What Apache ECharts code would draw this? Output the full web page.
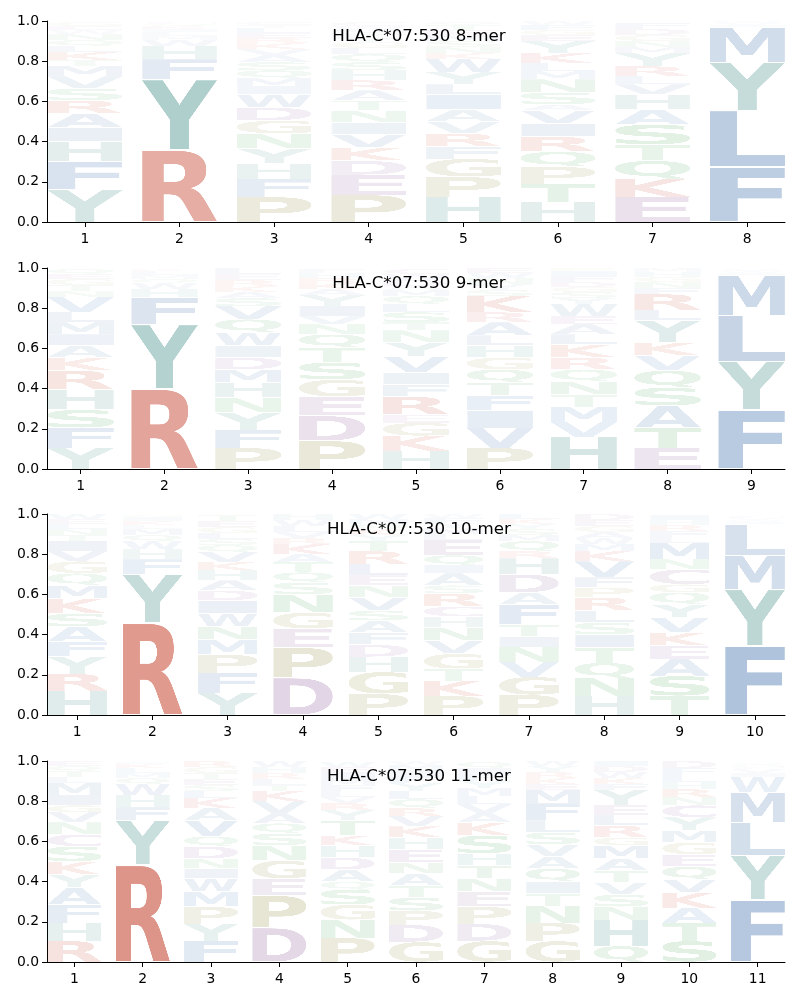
<!DOCTYPE html>
<html><head><meta charset="utf-8">
<script src="https://cdn.jsdelivr.net/npm/echarts@6/dist/echarts.min.js"></script>
<style>html,body{margin:0;padding:0;background:#fff}#c{width:800px;height:1000px}</style>
</head><body><div id="c"></div>
<script>
// ---------- DATA (letter, frequency), bottom to top for each position ----------
const titles = ['HLA-C*07:530 8-mer', 'HLA-C*07:530 9-mer', 'HLA-C*07:530 10-mer', 'HLA-C*07:530 11-mer'];
const yTicks = [0, 0.2, 0.4, 0.6, 0.8, 1.0];

const mer8 = [
  [['Y',.16],['F',.14],['H',.10],['I',.07],['A',.07],['R',.065],['S',.06],['V',.06],['M',.05],['T',.03],['K',.04],['L',.03],['Q',.03],['N',.03],['W',.02],['E',.02],['G',.02]],
  [['R',.36],['Y',.35],['F',.10],['H',.065],['W',.03],['M',.02],['L',.02],['I',.015],['K',.015],['Q',.01],['C',.01]],
  [['P',.125],['F',.09],['H',.075],['Y',.075],['N',.075],['G',.065],['D',.065],['W',.065],['I',.04],['M',.04],['Q',.04],['S',.04],['A',.035],['V',.03],['K',.03],['R',.025],['E',.025],['L',.025],['T',.015],['C',.015]],
  [['P',.135],['E',.10],['D',.07],['K',.065],['V',.065],['I',.06],['N',.06],['T',.05],['A',.05],['R',.05],['H',.05],['S',.04],['Q',.04],['L',.03],['G',.03],['Y',.02],['F',.02],['M',.02],['W',.02],['C',.02]],
  [['H',.125],['P',.10],['G',.09],['F',.06],['R',.065],['V',.06],['A',.06],['I',.075],['L',.05],['Y',.06],['W',.065],['K',.03],['N',.03],['S',.03],['M',.03],['E',.025],['T',.025],['Q',.015]],
  [['H',.10],['T',.09],['P',.085],['Q',.075],['R',.075],['I',.065],['V',.065],['A',.03],['S',.06],['N',.065],['M',.04],['L',.04],['K',.05],['Y',.06],['E',.03],['G',.025],['F',.025],['W',.02]],
  [['E',.125],['K',.09],['Q',.09],['T',.08],['S',.10],['A',.075],['H',.075],['V',.05],['L',.04],['R',.05],['Y',.065],['M',.03],['N',.03],['G',.03],['D',.03],['F',.03]],
  [['F',.275],['L',.28],['Y',.24],['M',.175],['I',.01],['V',.01],['W',.01]]
];

const mer9 = [
  [['Y',.105],['F',.10],['S',.09],['H',.10],['R',.095],['K',.065],['A',.06],['I',.055],['M',.06],['L',.05],['V',.075],['N',.03],['T',.03],['G',.03],['E',.025],['Q',.025]],
  [['R',.40],['Y',.32],['F',.135],['H',.04],['W',.03],['Q',.02],['M',.02],['L',.02],['K',.01]],
  [['P',.105],['F',.09],['Y',.085],['N',.075],['H',.075],['M',.065],['D',.06],['I',.06],['W',.065],['Q',.065],['V',.065],['S',.04],['A',.03],['K',.03],['R',.03],['E',.03],['L',.03]],
  [['P',.14],['D',.125],['E',.095],['G',.085],['S',.085],['T',.075],['Q',.065],['N',.05],['V',.04],['I',.05],['Y',.055],['A',.03],['K',.03],['R',.025],['H',.025],['F',.02]],
  [['H',.09],['K',.075],['G',.065],['E',.04],['R',.09],['F',.06],['I',.06],['V',.08],['Y',.07],['N',.06],['T',.04],['S',.05],['L',.04],['Q',.04],['M',.03],['A',.02],['D',.03],['W',.03],['C',.025]],
  [['P',.105],['V',.10],['I',.085],['F',.075],['T',.065],['Q',.065],['G',.06],['H',.06],['L',.05],['A',.065],['R',.05],['K',.08],['S',.03],['Y',.03],['N',.03],['W',.025],['E',.025]],
  [['H',.16],['V',.075],['M',.075],['T',.06],['N',.065],['Q',.06],['R',.06],['K',.065],['L',.05],['A',.05],['E',.04],['W',.06],['Y',.03],['S',.03],['G',.025],['D',.025],['F',.03],['I',.025],['P',.015]],
  [['E',.105],['T',.10],['A',.11],['S',.09],['Q',.085],['V',.075],['K',.065],['Y',.11],['L',.05],['R',.08],['F',.03],['N',.03],['G',.025],['H',.025],['M',.02]],
  [['F',.295],['Y',.24],['L',.23],['M',.20],['I',.01],['W',.01],['V',.01]]
];

const mer10 = [
  [['H',.12],['R',.085],['Y',.085],['F',.075],['A',.075],['S',.065],['K',.075],['M',.065],['Q',.06],['G',.06],['V',.05],['I',.05],['T',.03],['N',.03],['L',.025],['E',.025],['W',.025]],
  [['R',.46],['Y',.24],['F',.075],['H',.05],['W',.04],['Q',.03],['M',.03],['L',.02],['K',.02],['I',.02],['N',.01]],
  [['Y',.11],['F',.10],['P',.09],['M',.075],['N',.065],['W',.065],['I',.065],['D',.05],['A',.05],['H',.05],['K',.04],['V',.05],['Q',.035],['S',.03],['L',.03],['G',.03],['E',.03],['T',.03]],
  [['D',.185],['P',.15],['E',.095],['G',.08],['N',.09],['S',.06],['Q',.05],['T',.05],['A',.04],['K',.05],['R',.03],['V',.03],['L',.03],['W',.03],['H',.03]],
  [['P',.105],['G',.11],['H',.075],['D',.06],['F',.06],['A',.06],['S',.05],['V',.065],['N',.06],['E',.05],['L',.055],['R',.065],['T',.05],['Y',.03],['K',.03],['Q',.025],['M',.025],['W',.025]],
  [['P',.095],['K',.075],['T',.06],['G',.075],['V',.065],['N',.065],['H',.055],['C',.05],['R',.065],['S',.04],['A',.06],['I',.04],['Q',.05],['E',.075],['L',.03],['M',.03],['Y',.025],['F',.025],['W',.02]],
  [['P',.10],['G',.09],['V',.075],['N',.075],['I',.05],['T',.06],['F',.10],['A',.06],['D',.09],['H',.08],['R',.035],['Q',.05],['M',.03],['S',.03],['Y',.025],['K',.025],['L',.025]],
  [['H',.095],['N',.09],['Q',.075],['T',.075],['I',.065],['S',.06],['L',.06],['R',.065],['P',.05],['F',.05],['V',.08],['K',.05],['M',.035],['W',.03],['A',.03],['G',.03],['E',.03],['D',.03]],
  [['T',.095],['S',.10],['A',.085],['E',.065],['K',.065],['V',.075],['Y',.065],['Q',.06],['G',.04],['C',.075],['N',.05],['M',.08],['L',.03],['F',.03],['R',.03],['H',.025],['I',.025]],
  [['F',.345],['Y',.28],['M',.17],['L',.155],['I',.01],['W',.01],['V',.01],['C',.01]]
];

const mer11 = [
  [['R',.105],['H',.09],['F',.09],['A',.085],['Y',.065],['K',.065],['S',.075],['C',.06],['N',.06],['V',.05],['G',.035],['I',.05],['M',.06],['L',.03],['T',.03],['Q',.025],['E',.025]],
  [['R',.485],['Y',.22],['F',.065],['H',.06],['W',.055],['Q',.03],['M',.025],['L',.025],['K',.02],['I',.01]],
  [['F',.105],['Y',.085],['P',.085],['M',.075],['W',.065],['I',.05],['N',.05],['D',.06],['Q',.05],['V',.08],['A',.06],['K',.05],['L',.035],['S',.03],['E',.03],['T',.03],['G',.03],['R',.03]],
  [['D',.17],['P',.16],['E',.085],['G',.09],['N',.075],['S',.06],['Q',.05],['A',.05],['V',.06],['K',.05],['T',.03],['L',.03],['R',.03],['H',.03],['W',.03]],
  [['P',.12],['N',.09],['G',.075],['S',.075],['Q',.04],['A',.06],['D',.06],['H',.06],['K',.05],['T',.075],['Y',.05],['R',.035],['V',.03],['L',.03],['F',.03],['M',.03],['I',.03],['E',.03],['W',.025]],
  [['G',.10],['D',.085],['P',.07],['S',.065],['T',.06],['A',.06],['N',.055],['E',.065],['H',.06],['K',.055],['V',.05],['R',.04],['Q',.045],['L',.04],['Y',.04],['F',.035],['I',.03],['M',.025],['W',.02]],
  [['G',.105],['D',.085],['P',.085],['E',.075],['N',.065],['T',.065],['H',.06],['S',.09],['K',.065],['A',.045],['V',.045],['L',.04],['M',.04],['Y',.035],['F',.035],['I',.03],['Q',.03]],
  [['G',.105],['P',.09],['N',.085],['T',.06],['I',.06],['Q',.065],['A',.06],['V',.06],['S',.06],['L',.06],['F',.085],['M',.065],['E',.03],['K',.03],['R',.03],['Y',.03],['W',.025]],
  [['Q',.08],['H',.13],['N',.065],['S',.06],['V',.06],['T',.06],['A',.06],['M',.065],['G',.04],['R',.06],['L',.05],['E',.05],['Y',.075],['F',.03],['K',.03],['W',.03],['D',.03],['I',.025]],
  [['S',.105],['T',.09],['A',.075],['K',.075],['V',.065],['Q',.065],['E',.06],['G',.06],['M',.06],['Y',.065],['C',.06],['N',.04],['R',.04],['H',.035],['L',.035],['F',.035],['D',.035]],
  [['F',.31],['Y',.22],['L',.165],['M',.15],['W',.075],['I',.02],['V',.02],['C',.01],['H',.01],['Q',.01]]
];

const panels = [mer8, mer9, mer10, mer11];

// ---------- STYLE ----------
const GROUP_COLORS = {
  blue:   [57, 107, 168],
  teal:   [60, 138, 131],
  red:    [195, 60, 38],
  purple: [133, 83, 150],
  olive:  [140, 135, 55],
  green:  [60, 155, 75]
};
const LETTER_GROUP = {
  A:'blue', C:'purple', F:'blue', I:'blue', L:'blue', M:'blue', V:'blue', W:'blue',
  Y:'teal', H:'teal', R:'red', K:'red', D:'purple', E:'purple',
  P:'olive', G:'olive', N:'green', Q:'green', S:'green', T:'green'
};
const LETTERS = Object.keys(LETTER_GROUP);
const GLYPH_W = 0.79;
const FONT = "'DejaVu Sans', 'Liberation Sans', sans-serif";

// Build cropped glyph images
const glyphs = {};
LETTERS.forEach(ch => {
  const c = document.createElement('canvas');
  c.width = 520; c.height = 460;
  const ctx = c.getContext('2d');
  ctx.font = "bold 300px " + FONT;
  const col = GROUP_COLORS[LETTER_GROUP[ch]];
  ctx.fillStyle = 'rgb(' + col.join(',') + ')';
  ctx.textBaseline = 'alphabetic';
  ctx.fillText(ch, 40, 340);
  const d = ctx.getImageData(0, 0, c.width, c.height).data;
  let x0 = c.width, x1 = -1, y0 = c.height, y1 = -1;
  for (let y = 0; y < c.height; y++) {
    for (let x = 0; x < c.width; x++) {
      if (d[(y * c.width + x) * 4 + 3] > 40) {
        if (x < x0) x0 = x; if (x > x1) x1 = x;
        if (y < y0) y0 = y; if (y > y1) y1 = y;
      }
    }
  }
  const w = x1 - x0 + 1, h = y1 - y0 + 1;
  const o = document.createElement('canvas');
  o.width = w; o.height = h;
  o.getContext('2d').drawImage(c, x0, y0, w, h, 0, 0, w, h);
  glyphs[ch] = o;
});

const tops = [21, 268, 514, 761];
const gridH = 201;

const grids = [], xAxes = [], yAxes = [], series = [], titleArr = [];
panels.forEach((pos, i) => {
  const n = pos.length;
  grids.push({left: 47, width: 738, top: tops[i], height: gridH});
  const ticks = [];
  for (let k = 1; k <= n; k++) ticks.push(k);
  xAxes.push({
    type: 'value', gridIndex: i, min: 0.6, max: n + 0.4,
    axisLine: {show: true, lineStyle: {color: '#000', width: 1}},
    axisTick: {show: true, customValues: ticks, length: 5, lineStyle: {color: '#000', width: 1}},
    axisLabel: {show: true, customValues: ticks, color: '#000', fontSize: 13.9, fontFamily: FONT, margin: 10},
    splitLine: {show: false}
  });
  yAxes.push({
    type: 'value', gridIndex: i, min: 0, max: 1, interval: 0.2,
    axisLine: {show: true, lineStyle: {color: '#000', width: 1}},
    axisTick: {show: true, length: 5, lineStyle: {color: '#000', width: 1}},
    axisLabel: {color: '#000', fontSize: 13.9, fontFamily: FONT, margin: 8, formatter: v => v.toFixed(1)},
    splitLine: {show: false}
  });
  const data = [];
  pos.forEach((stack, p) => {
    let base = 0;
    stack.forEach(([ch, h]) => {
      const alpha = Math.min(1, Math.pow(h, 0.85));
      data.push([p + 1, base, base + h, LETTERS.indexOf(ch), alpha]);
      base += h;
    });
  });
  series.push({
    type: 'custom', xAxisIndex: i, yAxisIndex: i, silent: true,
    encode: {x: 0, y: [1, 2]},
    data: data,
    renderItem: (params, api) => {
      const x = api.value(0), b = api.value(1), t = api.value(2);
      const ch = LETTERS[api.value(3)];
      const a = api.value(4);
      const p0 = api.coord([x - GLYPH_W / 2, t]);
      const p1 = api.coord([x + GLYPH_W / 2, b]);
      const hpx = p1[1] - p0[1];
      const pad = hpx * 0.015;
      return {
        type: 'image',
        style: {image: glyphs[ch], x: p0[0], y: p0[1] + pad, width: p1[0] - p0[0], height: hpx - 2 * pad, opacity: a}
      };
    }
  });
  titleArr.push({
    text: titles[i], left: 414, top: tops[i] + 2, textAlign: 'center',
    textStyle: {fontSize: 16.7, fontWeight: 'normal', color: '#000', fontFamily: FONT}
  });
});

const chart = echarts.init(document.getElementById('c'), null, {renderer: 'canvas'});
chart.setOption({
  animation: false,
  backgroundColor: '#fff',
  title: titleArr,
  grid: grids, xAxis: xAxes, yAxis: yAxes, series: series
});
</script></body></html>
